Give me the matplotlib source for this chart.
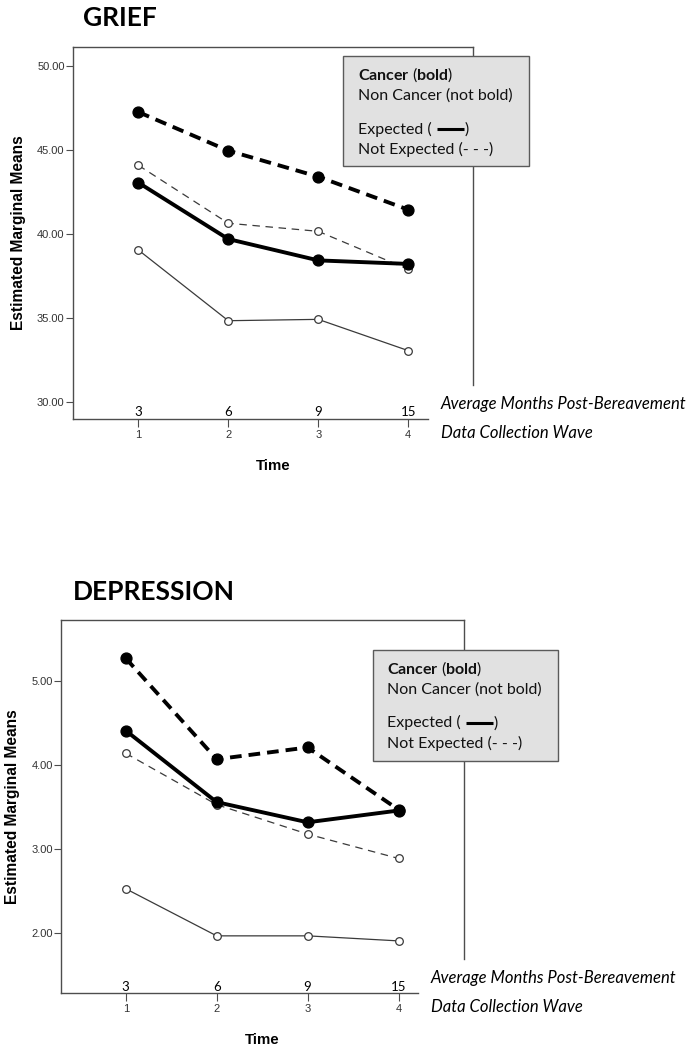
import matplotlib.pyplot as plt
from matplotlib.patches import Rectangle
from matplotlib.lines import Line2D

plt.rcParams['mathtext.fontset'] = 'custom'
plt.rcParams['mathtext.rm'] = 'Lato'
plt.rcParams['mathtext.bf'] = 'Lato:bold'
plt.rcParams['mathtext.it'] = 'Lato:italic'

W, H = 696, 1050

# -------------------------------
# Data
# -------------------------------
waves = [1, 2, 3, 4]
wave_labels = ['1', '2', '3', '4']
months = ['3', '6', '9', '15']

grief_cancer_expected = [43.04, 39.68, 38.41, 38.20]
grief_cancer_not_expected = [47.24, 44.94, 43.39, 41.43]
grief_noncancer_expected = [39.03, 34.82, 34.90, 33.04]
grief_noncancer_not_expected = [44.07, 40.62, 40.14, 37.88]
grief_yticks = [30, 35, 40, 45, 50]

dep_cancer_expected = [4.41, 3.56, 3.32, 3.46]
dep_cancer_not_expected = [5.27, 4.07, 4.21, 3.47]
dep_noncancer_expected = [2.53, 1.97, 1.97, 1.91]
dep_noncancer_not_expected = [4.14, 3.53, 3.18, 2.89]
dep_yticks = [2, 3, 4, 5]


def fx(x):
    return x / W


def fy(y):
    return 1 - y / H


fig = plt.figure(figsize=(W / 100, H / 100), dpi=100)
renderer = fig.canvas.get_renderer()

FRAME = '#4d4d4d'
THIN = '#3a3a3a'


def draw_panel(left, top, right, bottom, xlim, ylim, right_from, axis_end,
               yticks, ce, cne, nce, ncne):
    ax = fig.add_axes([fx(left), fy(bottom), (right - left) / W, (bottom - top) / H])
    ax.set_xlim(xlim)
    ax.set_ylim(ylim)

    # non cancer (thin, open markers)
    ax.plot(waves, nce, color=THIN, lw=0.9, marker='o', ms=5.5,
            mfc='white', mec=THIN, mew=0.9, zorder=3)
    ax.plot(waves, ncne, color=THIN, lw=0.9, ls=(0, (6.0, 4.5)), marker='o', ms=5.5,
            mfc='white', mec=THIN, mew=0.9, zorder=3)
    # cancer (bold, filled markers)
    ax.plot(waves, ce, color='black', lw=2.8, marker='o', ms=7.8,
            mfc='black', mec='black', zorder=4)
    ax.plot(waves, cne, color='black', lw=2.8, ls=(0, (3.0, 1.8)), marker='o', ms=7.8,
            mfc='black', mec='black', zorder=4)

    for s in ax.spines.values():
        s.set_color(FRAME)
        s.set_linewidth(1.0)
    ax.spines['right'].set_bounds(right_from, ylim[1])
    ax.spines['bottom'].set_bounds(xlim[0], axis_end)

    ax.set_yticks(yticks)
    ax.set_yticklabels([f'{v:.2f}' for v in yticks])
    ax.set_xticks(waves)
    ax.set_xticklabels(wave_labels)
    ax.tick_params(axis='y', direction='out', length=5, width=0.8, color=FRAME,
                   labelsize=8, labelcolor='#333333', pad=1)
    ax.tick_params(axis='x', direction='out', length=6, width=0.8, color=FRAME,
                   labelsize=8, labelcolor='#333333', pad=2)
    for lab in ax.get_xticklabels() + ax.get_yticklabels():
        lab.set_family('Liberation Sans')

    for w, m in zip(waves, months):
        ax.annotate(m, xy=(w, 0), xycoords=ax.get_xaxis_transform(),
                    xytext=(0, 1.8), textcoords='offset points',
                    ha='center', va='baseline', fontsize=9.5, family='Lato')
    return ax


def legend_box(x0, y0, x1, y1, tx, base):
    fig.add_artist(Rectangle((fx(x0), fy(y1)), (x1 - x0) / W, (y1 - y0) / H,
                             transform=fig.transFigure, fc='#e1e1e1', ec='#5a5a5a', lw=1.0))
    kw = dict(fontsize=11.5, family='Lato', va='baseline', ha='left', color='#111111')
    fig.text(fx(tx), fy(base[0]), r'$\mathbf{Cancer}$ ($\mathbf{bold}$)', **kw)
    fig.text(fx(tx), fy(base[1]), 'Non Cancer (not bold)', **kw)
    t = fig.text(fx(tx), fy(base[2]), 'Expected ( ', **kw)
    fig.text(fx(tx), fy(base[3]), 'Not Expected (- - -)', **kw)
    bb = t.get_window_extent(renderer)
    xs = bb.x1 + 1
    xe = xs + 27
    ly = base[2] - 4.7
    fig.add_artist(Line2D([fx(xs), fx(xe)], [fy(ly), fy(ly)], transform=fig.transFigure,
                          color='black', lw=2.2, solid_capstyle='butt'))
    fig.text(fx(xe + 0.5), fy(base[2]), ')', **kw)


def captions(x, b1, b2):
    kw = dict(fontsize=12, family='Lato', style='italic', va='baseline', ha='left')
    fig.text(fx(x), fy(b1), 'Average Months Post-Bereavement', **kw)
    fig.text(fx(x), fy(b2), 'Data Collection Wave', **kw)


# -------------------------------
# GRIEF
# -------------------------------
draw_panel(73, 47, 473, 419, (0.274, 4.72), (28.97, 51.11), 30.99, 4.22,
           grief_yticks, grief_cancer_expected, grief_cancer_not_expected,
           grief_noncancer_expected, grief_noncancer_not_expected)
fig.text(fx(83), fy(26), 'GRIEF', fontsize=19, family='Lato', weight='bold', va='baseline')
fig.text(fx(19), fy(233), 'Estimated Marginal Means', rotation=90, ha='center', va='center',
         fontsize=11.2, family='Liberation Sans', weight='bold')
fig.text(fx(273), fy(470), 'Time', ha='center', va='baseline',
         fontsize=10.8, family='Liberation Sans', weight='bold')
legend_box(343, 56, 529, 166, 358, [79.5, 99.3, 134, 154])
captions(441, 408.5, 438.5)

# -------------------------------
# DEPRESSION
# -------------------------------
draw_panel(61, 620, 464, 993.3, (0.288, 4.72), (1.287, 5.725), 1.694, 4.21,
           dep_yticks, dep_cancer_expected, dep_cancer_not_expected,
           dep_noncancer_expected, dep_noncancer_not_expected)
fig.text(fx(73), fy(600), 'DEPRESSION', fontsize=19, family='Lato', weight='bold', va='baseline')
fig.text(fx(12.5), fy(806.7), 'Estimated Marginal Means', rotation=90, ha='center', va='center',
         fontsize=11.2, family='Liberation Sans', weight='bold')
fig.text(fx(262), fy(1044), 'Time', ha='center', va='baseline',
         fontsize=10.8, family='Liberation Sans', weight='bold')
legend_box(372.7, 650, 558.3, 760.7, 387, [673.5, 694, 727.5, 748])
captions(431, 983.5, 1011.5)

fig.savefig('out.png', dpi=100)
